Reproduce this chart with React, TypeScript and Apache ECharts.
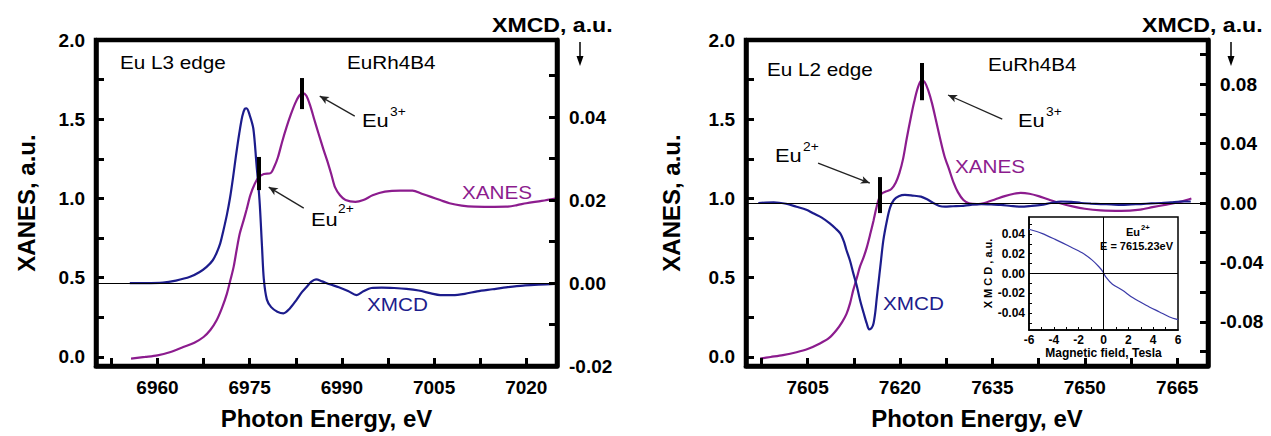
import React, { useEffect, useRef } from "react";
import * as echarts from "echarts";

// ---------- DATA ----------
// Eu L3 edge (left panel): [photon energy eV, value]
const l3Xanes: number[][] = [
  [6955.7, -0.01], [6958, 0.0], [6960, 0.01], [6962, 0.03], [6964.2, 0.063], [6966, 0.09],
  [6967.5, 0.126], [6968.6, 0.17], [6969.6, 0.23], [6970.5, 0.31], [6971.3, 0.4], [6971.9, 0.49],
  [6972.4, 0.57], [6972.9, 0.68], [6973.4, 0.78], [6974.0, 0.86], [6974.5, 0.93], [6975.1, 1.02],
  [6975.8, 1.09], [6976.5, 1.135], [6977.3, 1.155], [6978.4, 1.16], [6979.0, 1.2], [6979.6, 1.26],
  [6980.3, 1.36], [6981.0, 1.45], [6981.7, 1.53], [6982.4, 1.6], [6983.0, 1.645], [6983.6, 1.665],
  [6984.2, 1.65], [6984.9, 1.58], [6985.5, 1.5], [6986.2, 1.41], [6987.0, 1.31], [6987.6, 1.24],
  [6988.3, 1.15], [6988.9, 1.07], [6989.7, 1.02], [6990.6, 0.99], [6992.2, 0.978], [6993.5, 0.99],
  [6995.0, 1.02], [6997, 1.043], [6999.5, 1.05], [7001.5, 1.05], [7003, 1.03], [7004.5, 1.01],
  [7006, 0.99], [7007.5, 0.97], [7009.5, 0.955], [7011.5, 0.948], [7014, 0.947], [7016.7, 0.948],
  [7018.5, 0.958], [7020, 0.97], [7022.5, 0.985], [7024.7, 1.0],
];
const l3Xmcd: number[][] = [
  [6955.5, 0.0], [6958, 0.0], [6960.9, 0.0001], [6963, 0.0006], [6965.3, 0.0015], [6966.8, 0.0026],
  [6968.0, 0.0039], [6969.0, 0.0055], [6969.6, 0.0072], [6970.2, 0.0095], [6970.7, 0.0125],
  [6971.3, 0.0165], [6971.8, 0.0205], [6972.3, 0.0255], [6972.8, 0.031], [6973.3, 0.036],
  [6973.8, 0.0402], [6974.2, 0.042], [6974.5, 0.0421], [6975.0, 0.0405], [6975.6, 0.0372],
  [6976.1, 0.0288], [6976.6, 0.02], [6977.0, 0.009], [6977.3, 0.001], [6977.8, -0.004],
  [6978.5, -0.0058], [6979.5, -0.0069], [6980.5, -0.0073], [6981.5, -0.0062], [6982.6, -0.0041],
  [6983.5, -0.0022], [6984.3, -0.0009], [6985.0, 0.0003], [6985.8, 0.0009], [6986.8, 0.0004],
  [6988, -0.0003], [6989.5, -0.001], [6991, -0.0019], [6992.4, -0.0029], [6993.5, -0.002],
  [6994.8, -0.0012], [6996.5, -0.0011], [6998.5, -0.0012], [7000.5, -0.0014], [7002.5, -0.0018],
  [7004.5, -0.0025], [7006, -0.0029], [7008, -0.0029], [7010, -0.0026], [7012, -0.002],
  [7014.5, -0.0015], [7017, -0.001], [7019.5, -0.0006], [7022, -0.0004], [7024.7, -0.0002],
];
// Eu L2 edge (right panel)
const l2Xanes: number[][] = [
  [7597.3, -0.01], [7599, 0.0], [7601, 0.012], [7603.2, 0.03], [7605, 0.05], [7607, 0.085],
  [7608.5, 0.12], [7609.7, 0.17], [7610.6, 0.22], [7611.3, 0.27], [7611.9, 0.34], [7612.4, 0.42],
  [7613.0, 0.5], [7613.5, 0.57], [7614.1, 0.63], [7614.6, 0.69], [7615.2, 0.78], [7615.7, 0.86],
  [7616.1, 0.93], [7616.5, 0.99], [7617.0, 1.03], [7617.8, 1.045], [7618.6, 1.06], [7619.3, 1.1],
  [7619.9, 1.16], [7620.5, 1.25], [7621.1, 1.38], [7621.7, 1.5], [7622.3, 1.61], [7622.9, 1.7],
  [7623.5, 1.745], [7624.0, 1.735], [7624.6, 1.68], [7625.2, 1.6], [7625.8, 1.5], [7626.5, 1.38],
  [7627.2, 1.27], [7628.0, 1.18], [7628.7, 1.1], [7629.4, 1.04], [7630.3, 0.99], [7631.2, 0.97],
  [7632.5, 0.965], [7634, 0.975], [7635.5, 0.995], [7637, 1.015], [7638.5, 1.03], [7639.6, 1.035],
  [7641, 1.03], [7642.5, 1.015], [7644, 0.995], [7646, 0.97], [7648, 0.95], [7650, 0.935],
  [7652.6, 0.925], [7655.9, 0.922], [7659, 0.93], [7661, 0.945], [7663, 0.96], [7665, 0.975],
  [7666.5, 0.99], [7667.3, 1.0],
];
const l2Xmcd: number[][] = [
  [7597, 0.0], [7599.5, 0.0005], [7601.5, -0.0005], [7603.2, -0.0025], [7604.8, -0.0045],
  [7605.9, -0.0069], [7607.3, -0.0098], [7608.6, -0.0137], [7609.5, -0.017], [7610.3, -0.0204],
  [7610.9, -0.026], [7611.3, -0.0316], [7611.9, -0.039], [7612.4, -0.047], [7613.0, -0.056],
  [7613.5, -0.065], [7614.1, -0.074], [7614.6, -0.081], [7615.0, -0.085], [7615.4, -0.084],
  [7615.7, -0.081], [7616.0, -0.073], [7616.2, -0.065], [7616.5, -0.054], [7616.8, -0.043],
  [7617.3, -0.025], [7617.9, -0.0114], [7618.4, -0.003], [7619.0, 0.002], [7619.8, 0.0045],
  [7620.8, 0.0054], [7622, 0.005], [7623.4, 0.0043], [7624.4, 0.0025], [7625.4, 0.0],
  [7626.4, -0.002], [7627.3, -0.0025], [7628.6, -0.0022], [7629.9, -0.002], [7631.5, -0.0012],
  [7633.2, -0.0007], [7634.8, -0.001], [7636.4, -0.0013], [7638, -0.002], [7639.6, -0.0025],
  [7641.3, -0.002], [7642.9, -0.0013], [7644.5, 0.0], [7646.1, 0.001], [7647.8, 0.0008],
  [7649.4, 0.0], [7651, -0.0004], [7652.6, -0.0007], [7654.3, -0.001], [7655.9, -0.0013],
  [7657.5, -0.001], [7659.1, -0.0007], [7660.8, -0.0003], [7662.4, 0.0], [7664, 0.0005],
  [7665.6, 0.001], [7667.2, 0.001],
];
// Inset: XMCD vs magnetic field at E = 7615.23 eV
const insetField: number[] = [-6, -4.97, -3.89, -2.8, -1.72, -0.91, -0.37, -0.04, 0.18, 0.72, 1.53, 2.34, 3.43, 4.51, 5.32, 6.0];
const insetXmcd: number[] = [0.0446, 0.0405, 0.0344, 0.0277, 0.0209, 0.0135, 0.0068, 0.0017, -0.0034, -0.0108, -0.0169, -0.0243, -0.032, -0.0388, -0.0439, -0.0466];

// Axis ranges
const L3_X = [6950, 7025];
const L2_X = [7595, 7670];
const XANES_Y = [-0.057, 2.0];
const L3_XMCD_Y = [-0.02, 0.0586];
const L2_XMCD_Y = [-0.1096, 0.1096];
const INSET_X = [-6, 6];
const INSET_Y = [-0.057, 0.057];

// Ticks / labels
const l3XLabels = [6960, 6975, 6990, 7005, 7020];
const l3XTicks = [6952.5, 6960, 6967.5, 6975, 6982.5, 6990, 6997.5, 7005, 7012.5, 7020];
const l2XLabels = [7605, 7620, 7635, 7650, 7665];
const l2XTicks = [7597.5, 7605, 7612.5, 7620, 7627.5, 7635, 7642.5, 7650, 7657.5, 7665];
const xanesLabels = [0, 0.5, 1.0, 1.5, 2.0];
const xanesTicks = [0, 0.25, 0.5, 0.75, 1.0, 1.25, 1.5, 1.75];
const l3XmcdLabels = [-0.02, 0.0, 0.02, 0.04];
const l3XmcdTicks = [-0.01, 0.0, 0.01, 0.02, 0.03, 0.04, 0.05];
const l2XmcdLabels = [-0.08, -0.04, 0.0, 0.04, 0.08];
const l2XmcdTicks = [-0.1, -0.08, -0.06, -0.04, -0.02, 0.0, 0.02, 0.04, 0.06, 0.08, 0.1];
const insetXLabels = [-6, -4, -2, 0, 2, 4, 6];
const insetXTicks = [-5, -4, -3, -2, -1, 0, 1, 2, 3, 4, 5];
const insetYLabels = [-0.04, -0.02, 0.0, 0.02, 0.04];
const insetYTicks = [-0.05, -0.04, -0.03, -0.02, -0.01, 0.0, 0.01, 0.02, 0.03, 0.04, 0.05];

// Annotation markers (energy, XANES low, XANES high) and arrows [fromE, fromV, toE, toV]
const l3Bars = [[6976.5, 1.053, 1.262], [6983.4, 1.564, 1.76]];
const l2Bars = [[7616.7, 0.908, 1.135], [7623.5, 1.62, 1.855]];
const l3Arrows = [[6992.1, 1.52, 6986.4, 1.646], [6983.8, 0.939, 6978.1, 1.072]];
const l2Arrows = [[7636.6, 1.501, 7627.8, 1.653], [7606.7, 1.223, 7615.1, 1.097]];

// ---------- STYLE / LAYOUT ----------
const FONT = '"Liberation Sans", Arial, Helvetica, sans-serif';
const PURPLE = "#8c1c8e";
const BLUE = "#1c1c8c";
const SX = 1.15;
const G1 = { left: 96, top: 40, width: 461, height: 326 };
const G2 = { left: 746, top: 40, width: 462, height: 326 };
const G3 = { left: 1029, top: 217, width: 149, height: 113 };

function frameAxis(gridIndex: number, range: number[], ticks: number[], labels: number[], fmt: (v: number) => string, margin: number, position: string) {
  return {
    type: "value", gridIndex, position, min: range[0], max: range[1],
    axisLine: { show: true, onZero: false, lineStyle: { color: "#000", width: 4.5 } },
    axisTick: { show: true, inside: true, length: 8, customValues: ticks, lineStyle: { color: "#000", width: 3 } },
    axisLabel: { customValues: labels, fontSize: 19, fontWeight: "bold", fontFamily: FONT, color: "#000", formatter: fmt, margin },
    splitLine: { show: false },
  };
}
function hiddenAxis(gridIndex: number, range: number[], extra: any) {
  return {
    type: "value", gridIndex, min: range[0], max: range[1],
    axisLine: { show: false, onZero: false }, axisTick: { show: false }, axisLabel: { show: false }, splitLine: { show: false },
    ...extra,
  };
}
function annotationLines(bars: number[][], arrows: number[][]) {
  const data: any[] = [];
  bars.forEach((b) => {
    data.push([
      { coord: [b[0], b[1]], lineStyle: { color: "#000", width: 4, type: "solid" } },
      { coord: [b[0], b[2]] },
    ]);
  });
  arrows.forEach((a) => {
    data.push([
      { coord: [a[0], a[1]], lineStyle: { color: "#222", width: 1.3, type: "solid" } },
      { coord: [a[2], a[3]], symbol: "arrow", symbolSize: [6, 9] },
    ]);
  });
  return { silent: true, symbol: ["none", "none"], label: { show: false }, data };
}
function zeroLine() {
  return { silent: true, symbol: ["none", "none"], label: { show: false }, lineStyle: { color: "#000", width: 1.2, type: "solid" }, data: [{ yAxis: 0 }] };
}
function txt(text: string, x: number, y: number, size: number, color = "#000", weight = "normal", sx = SX) {
  return {
    type: "text", x, y, scaleX: sx, silent: true,
    style: { text, fill: color, fontSize: size, fontWeight: weight, fontFamily: FONT, align: "left", verticalAlign: "middle" },
  };
}
const titleStyle = { fontSize: 24, fontWeight: "bold", color: "#000", fontFamily: FONT };
const layer = { position: "absolute" as const, left: 0, top: 0, width: 1271, height: 436 };

export default function App() {
  const curveRef = useRef<HTMLDivElement>(null);
  const frameRef = useRef<HTMLDivElement>(null);
  const overRef = useRef<HTMLDivElement>(null);
  useEffect(() => {
    if (!curveRef.current || !frameRef.current || !overRef.current) return;

    // 1) curves (bottom layer)
    const curves = echarts.init(curveRef.current, undefined, { renderer: "svg" });
    curves.setOption({
      animation: false,
      backgroundColor: "#fff",
      grid: [{ ...G1, show: false }, { ...G2, show: false }],
      xAxis: [hiddenAxis(0, L3_X, {}), hiddenAxis(1, L2_X, {})],
      yAxis: [
        hiddenAxis(0, XANES_Y, {}),
        hiddenAxis(0, L3_XMCD_Y, { position: "right" }),
        hiddenAxis(1, XANES_Y, {}),
        hiddenAxis(1, L2_XMCD_Y, { position: "right" }),
      ],
      series: [
        { type: "line", name: "XANES L3", xAxisIndex: 0, yAxisIndex: 0, data: l3Xanes, showSymbol: false, smooth: 0.3, lineStyle: { color: PURPLE, width: 2.2 } },
        { type: "line", name: "XMCD L3", xAxisIndex: 0, yAxisIndex: 1, data: l3Xmcd, showSymbol: false, smooth: 0.3, lineStyle: { color: BLUE, width: 2.2 }, markLine: zeroLine() },
        { type: "line", name: "XANES L2", xAxisIndex: 1, yAxisIndex: 2, data: l2Xanes, showSymbol: false, smooth: 0.3, lineStyle: { color: PURPLE, width: 2.2 } },
        { type: "line", name: "XMCD L2", xAxisIndex: 1, yAxisIndex: 3, data: l2Xmcd, showSymbol: false, smooth: 0.3, lineStyle: { color: BLUE, width: 2.2 }, markLine: zeroLine() },
      ],
    } as any);

    // 2) frames, ticks and tick labels (middle layer, no series)
    const frames = echarts.init(frameRef.current, undefined, { renderer: "svg" });
    frames.setOption({
      animation: false,
      backgroundColor: "transparent",
      grid: [
        { ...G1, show: true, borderColor: "#000", borderWidth: 4.5 },
        { ...G2, show: true, borderColor: "#000", borderWidth: 4.5 },
      ],
      xAxis: [
        frameAxis(0, L3_X, l3XTicks, l3XLabels, (v) => String(v), 12, "bottom"),
        frameAxis(1, L2_X, l2XTicks, l2XLabels, (v) => String(v), 12, "bottom"),
      ],
      yAxis: [
        frameAxis(0, XANES_Y, xanesTicks, xanesLabels, (v) => v.toFixed(1), 11, "left"),
        frameAxis(0, L3_XMCD_Y, l3XmcdTicks, l3XmcdLabels, (v) => v.toFixed(2), 12, "right"),
        frameAxis(1, XANES_Y, xanesTicks, xanesLabels, (v) => v.toFixed(1), 11, "left"),
        frameAxis(1, L2_XMCD_Y, l2XmcdTicks, l2XmcdLabels, (v) => v.toFixed(2), 12, "right"),
      ],
      series: [],
    } as any);

    // 3) titles, annotations and inset (top layer)
    const over = echarts.init(overRef.current, undefined, { renderer: "svg" });
    const insetData = insetField.map((f, i) => [f, insetXmcd[i]]);
    over.setOption({
      animation: false,
      backgroundColor: "transparent",
      grid: [
        { ...G1, show: false },
        { ...G2, show: false },
        { ...G3, show: true, borderColor: "#000", borderWidth: 1.5, backgroundColor: "#fff" },
      ],
      xAxis: [
        hiddenAxis(0, L3_X, { name: "Photon Energy, eV", nameLocation: "middle", nameGap: 40, nameTextStyle: titleStyle }),
        hiddenAxis(1, L2_X, { name: "Photon Energy, eV", nameLocation: "middle", nameGap: 40, nameTextStyle: titleStyle }),
        {
          type: "value", gridIndex: 2, min: INSET_X[0], max: INSET_X[1],
          axisLine: { show: true, onZero: false, lineStyle: { color: "#000", width: 1.5 } },
          axisTick: { show: true, inside: true, length: 3, customValues: insetXTicks, lineStyle: { color: "#000", width: 1 } },
          axisLabel: { customValues: insetXLabels, fontSize: 12, fontWeight: "bold", color: "#000", fontFamily: FONT, margin: 4, formatter: (v: number) => String(v) },
          splitLine: { show: false },
          name: "Magnetic field, Tesla", nameLocation: "middle", nameGap: 17,
          nameTextStyle: { fontSize: 12, fontWeight: "bold", color: "#000", fontFamily: FONT },
        },
      ],
      yAxis: [
        hiddenAxis(0, XANES_Y, { name: "XANES, a.u.", nameLocation: "middle", nameGap: 58, nameRotate: 90, nameTextStyle: titleStyle }),
        hiddenAxis(1, XANES_Y, { name: "XANES, a.u.", nameLocation: "middle", nameGap: 63, nameRotate: 90, nameTextStyle: titleStyle }),
        {
          type: "value", gridIndex: 2, min: INSET_Y[0], max: INSET_Y[1],
          axisLine: { show: true, onZero: false, lineStyle: { color: "#000", width: 1.5 } },
          axisTick: { show: true, inside: true, length: 3, customValues: insetYTicks, lineStyle: { color: "#000", width: 1 } },
          axisLabel: { customValues: insetYLabels, fontSize: 12, fontWeight: "bold", color: "#000", fontFamily: FONT, margin: 4, formatter: (v: number) => v.toFixed(2) },
          splitLine: { show: false },
          name: "X M C D , a.u.", nameLocation: "middle", nameGap: 36, nameRotate: 90,
          nameTextStyle: { fontSize: 11, fontWeight: "bold", color: "#000", fontFamily: FONT },
        },
      ],
      series: [
        { type: "line", name: "L3 markers", xAxisIndex: 0, yAxisIndex: 0, data: [], showSymbol: false, markLine: annotationLines(l3Bars, l3Arrows) },
        { type: "line", name: "L2 markers", xAxisIndex: 1, yAxisIndex: 1, data: [], showSymbol: false, markLine: annotationLines(l2Bars, l2Arrows) },
        {
          type: "line", name: "Inset", xAxisIndex: 2, yAxisIndex: 2, data: insetData, showSymbol: false, smooth: 0.3,
          lineStyle: { color: "#3a3aa8", width: 1.2 },
          markLine: { silent: true, symbol: ["none", "none"], label: { show: false }, lineStyle: { color: "#000", width: 1, type: "solid" }, data: [{ yAxis: 0 }, { xAxis: 0 }] },
        },
      ],
      graphic: [
        txt("Eu L3 edge", 120, 63, 18),
        txt("EuRh4B4", 347, 63, 18),
        txt("Eu", 362, 120, 19),
        txt("3+", 390, 112, 12),
        txt("Eu", 311, 219, 19),
        txt("2+", 338, 209, 12),
        txt("XANES", 462, 193, 18, PURPLE),
        txt("XMCD", 367, 305, 18, BLUE),
        txt("XMCD, a.u.", 492, 25, 21, "#000", "bold", 1.1),
        { type: "line", silent: true, shape: { x1: 580, y1: 42, x2: 580, y2: 58 }, style: { stroke: "#000", lineWidth: 1.5 } },
        { type: "polygon", silent: true, shape: { points: [[576.5, 56], [583.5, 56], [580, 66]] }, style: { fill: "#000" } },
        txt("Eu L2 edge", 767, 70, 18),
        txt("EuRh4B4", 988, 65, 18),
        txt("Eu", 1018, 120, 19),
        txt("3+", 1046, 112, 12),
        txt("Eu", 775, 155, 19),
        txt("2+", 803, 147, 12),
        txt("XANES", 955, 167, 18, PURPLE),
        txt("XMCD", 883, 304, 18, BLUE),
        txt("XMCD, a.u.", 1142, 25, 21, "#000", "bold", 1.1),
        { type: "line", silent: true, shape: { x1: 1231, y1: 42, x2: 1231, y2: 58 }, style: { stroke: "#000", lineWidth: 1.5 } },
        { type: "polygon", silent: true, shape: { points: [[1227.5, 56], [1234.5, 56], [1231, 66]] }, style: { fill: "#000" } },
        txt("Eu", 1126, 232, 10, "#000", "bold", 1.1),
        txt("2+", 1141, 228, 7, "#000", "bold", 1.1),
        txt("E = 7615.23eV", 1100, 246, 10, "#000", "bold", 1.1),
      ],
    } as any);

    return () => {
      over.dispose();
      frames.dispose();
      curves.dispose();
    };
  }, []);
  return (
    <div style={{ ...layer, overflow: "hidden", background: "#fff" }}>
      <div ref={curveRef} style={layer} />
      <div ref={frameRef} style={{ ...layer, pointerEvents: "none" }} />
      <div ref={overRef} style={{ ...layer, pointerEvents: "none" }} />
    </div>
  );
}
